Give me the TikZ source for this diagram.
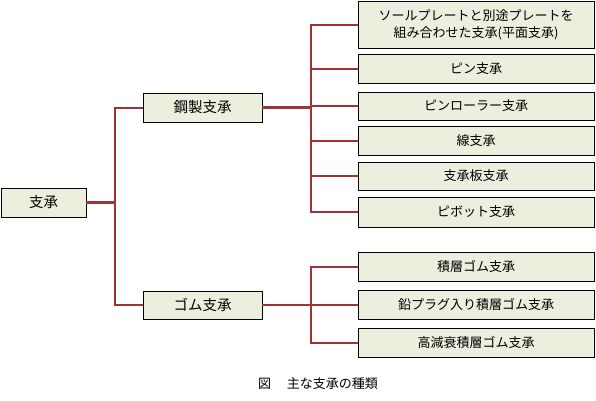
\documentclass[tikz,border=0pt]{standalone}
\usepackage{fontspec}
\setmainfont{Noto Sans CJK JP}
\begin{document}
\begin{tikzpicture}[x=1pt,y=-1pt,
  box/.style={draw=black,line width=0.9pt,fill=boxfill,rectangle,inner sep=0pt,
    align=center,font=\fontsize{13pt}{17pt}\selectfont},
  bigbox/.style={box,font=\fontsize{14.5pt}{17pt}\selectfont},
  conn/.style={draw=linered,line width=2pt},
  thickconn/.style={draw=linered,line width=3pt},
]
\definecolor{boxfill}{HTML}{EBEFDE}
\definecolor{linered}{HTML}{A03434}
\useasboundingbox (0,0) rectangle (596,400);
\fill[white] (0,0) rectangle (596,400);

\node[bigbox,minimum width=85pt,minimum height=29pt] (root) at (43.5,202.5) {支承};
\node[bigbox,minimum width=119pt,minimum height=29pt] (steel) at (202.5,107.5) {鋼製支承};
\node[bigbox,minimum width=119pt,minimum height=28pt] (rubber) at (202.5,305) {ゴム支承};

\node[box,minimum width=236pt,minimum height=47pt] (c1) at (476,24.5) {ソールプレートと別途プレートを\\組み合わせた支承(平面支承)};
\node[box,minimum width=236pt,minimum height=29pt] (c2) at (476,68.5) {ピン支承};
\node[box,minimum width=236pt,minimum height=28pt] (c3) at (476,106) {ピンローラー支承};
\node[box,minimum width=236pt,minimum height=29pt] (c4) at (476,140.5) {線支承};
\node[box,minimum width=236pt,minimum height=28pt] (c5) at (476,176) {支承板支承};
\node[box,minimum width=236pt,minimum height=30pt] (c6) at (476,212) {ピボット支承};

\node[box,minimum width=236pt,minimum height=29pt] (r1) at (476,266.5) {積層ゴム支承};
\node[box,minimum width=236pt,minimum height=29pt] (r2) at (476,304.5) {鉛プラグ入り積層ゴム支承};
\node[box,minimum width=236pt,minimum height=29pt] (r3) at (476,342.5) {高減衰積層ゴム支承};

\coordinate (j1) at (114.5,202.5);
\coordinate (j2) at (311,107.5);
\coordinate (j3) at (311,305);

\draw[thickconn] (root.east) -- (j1);
\draw[conn] (j1) |- (steel.west);
\draw[conn] (j1) |- (rubber.west);

\draw[thickconn] (steel.east) -- (j2);
\foreach \c in {c1,c2,c3,c4,c5,c6} \draw[conn] (j2) |- (\c.west);

\draw[conn] (rubber.east) -- (j3);
\foreach \c in {r1,r2,r3} \draw[conn] (j3) |- (\c.west);

\node[font=\fontsize{13pt}{15pt}\selectfont] (cap) at (318,384) {図\hspace{16pt}主な支承の種類};
\end{tikzpicture}
\end{document}
